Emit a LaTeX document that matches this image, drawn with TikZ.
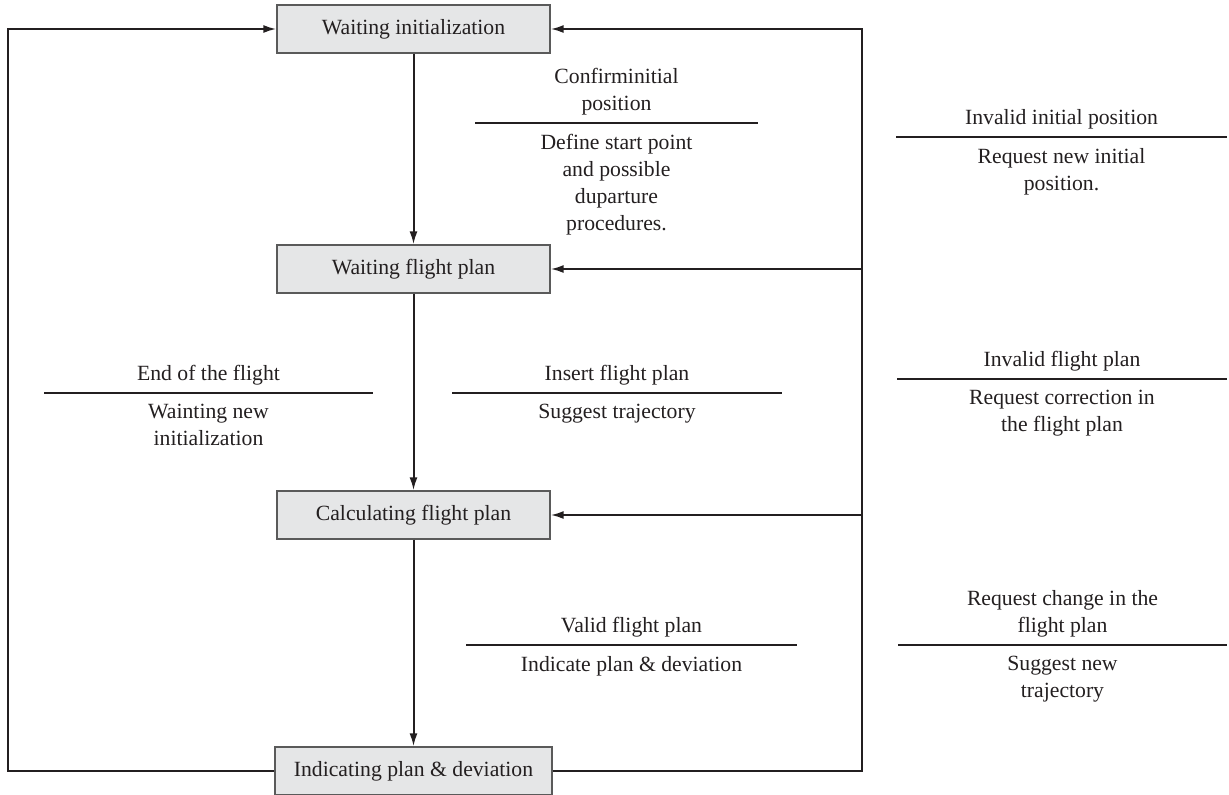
\documentclass[tikz,border=0pt]{standalone}
\usepackage{fontspec}
\setmainfont{Liberation Serif}
\usetikzlibrary{arrows.meta}
\definecolor{boxfill}{RGB}{229,230,231}
\definecolor{boxline}{RGB}{90,90,90}
\definecolor{ink}{RGB}{35,31,32}
\begin{document}
\begin{tikzpicture}[x=1pt,y=-1pt,
  font=\fontsize{21.7}{27}\selectfont, text=ink,
  state/.style={draw=boxline, line width=1.3pt, fill=boxfill,
    minimum width=273pt, minimum height=48pt, inner sep=0pt},
  flow/.style={draw=ink, line width=2pt},
  arr/.style={flow, -{Latex[length=13pt,width=8pt]}},
  rule/.style={draw=ink, line width=2pt},
  cond/.style={anchor=south, align=center, inner sep=0pt},
  act/.style={anchor=north, align=center, inner sep=0pt}]
\useasboundingbox (0,0) rectangle (1229,795);

% states
\node[state] (init) at (413.5,29) {Waiting initialization};
\node[state] (wfp) at (413.5,269) {Waiting flight plan};
\node[state] (calc) at (413.5,515) {Calculating flight plan};
\node[state, minimum width=277pt] (ind) at (413.5,771) {Indicating plan \& deviation};

% main sequence
\draw[arr] (init.south) -- (wfp.north);
\draw[arr] (wfp.south) -- (calc.north);
\draw[arr] (calc.south) -- (ind.north);

% return paths
\coordinate (lb) at (8,771);
\coordinate (rb) at (862,771);
\coordinate (rt) at (862,29);
\coordinate (r2) at (862,269);
\coordinate (r3) at (862,515);
\draw[arr] (ind.west) -- (lb) |- (init.west);
\draw[arr] (ind.east) -- (rb) -- (rt) -- (init.east);
\draw[arr] (r2) -- (wfp.east);
\draw[arr] (r3) -- (calc.east);

% transition labels: condition above the rule, action below
\coordinate (a1) at (475,123); \coordinate (b1) at (758,123);
\draw[rule] (a1) -- (b1);
\node[cond] (t1) at (616.5,115) {Confirminitial\\position};
\node[act] (d1) at (616.5,134) {Define start point\\and possible\\duparture\\procedures.};

\coordinate (a2) at (896,137); \coordinate (b2) at (1227,137);
\draw[rule] (a2) -- (b2);
\node[cond] (t2) at (1061.5,129) {Invalid initial position};
\node[act] (d2) at (1061.5,148) {Request new initial\\position.};

\coordinate (a3) at (44,393); \coordinate (b3) at (373,393);
\draw[rule] (a3) -- (b3);
\node[cond] (t3) at (208.5,385) {End of the flight};
\node[act] (d3) at (208.5,404) {Wainting new\\initialization};

\coordinate (a4) at (452,393); \coordinate (b4) at (782,393);
\draw[rule] (a4) -- (b4);
\node[cond] (t4) at (617,385) {Insert flight plan};
\node[act] (d4) at (617,404) {Suggest trajectory};

\coordinate (a5) at (897,379); \coordinate (b5) at (1227,379);
\draw[rule] (a5) -- (b5);
\node[cond] (t5) at (1062,371) {Invalid flight plan};
\node[act] (d5) at (1062,390) {Request correction in\\the flight plan};

\coordinate (a6) at (466,645); \coordinate (b6) at (797,645);
\draw[rule] (a6) -- (b6);
\node[cond] (t6) at (631.5,637) {Valid flight plan};
\node[act] (d6) at (631.5,656) {Indicate plan \& deviation};

\coordinate (a7) at (898,645); \coordinate (b7) at (1227,645);
\draw[rule] (a7) -- (b7);
\node[cond] (t7) at (1062.5,637) {Request change in the\\flight plan};
\node[act] (d7) at (1062.5,656) {Suggest new\\trajectory};
\end{tikzpicture}
\end{document}
